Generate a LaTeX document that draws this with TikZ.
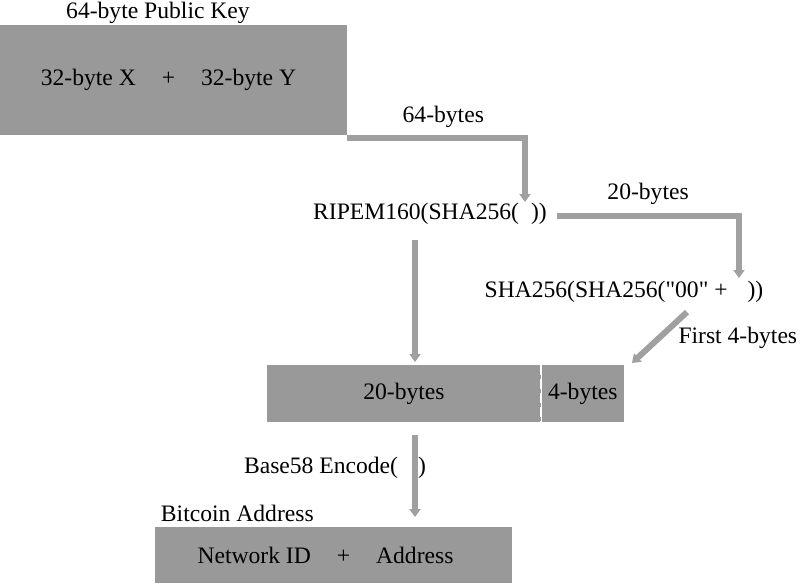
\documentclass[tikz,border=0pt]{standalone}
\usepackage{fontspec}
\setmainfont{Liberation Serif}
\usetikzlibrary{arrows.meta, positioning}
\definecolor{boxgray}{HTML}{999999}
\definecolor{linegray}{HTML}{A0A0A0}

\begin{document}
\begin{tikzpicture}[
  x=0.5pt, y=-0.5pt,
  font=\fontsize{11.8}{14}\selectfont,
  block/.style={rectangle, fill=boxgray, inner sep=0pt, minimum height=28.5pt, align=center},
  caption/.style={inner sep=1pt, text=black},
  flow/.style={-{Triangle[length=4pt, width=5.5pt]}, line width=3pt, color=linegray},
]
\useasboundingbox (0,0) rectangle (800,585);

% public key
\node[block, minimum width=173.5pt, minimum height=55pt] (pubkey) at (173.5,80)
  {32-byte X\hspace{1.1em}+\hspace{1.1em}32-byte Y\hspace*{5pt}};
\node[caption] (pubtitle) at (158,13) {64-byte Public Key};

% hash steps
\node[caption] (ripemd) at (430,214) {RIPEM160(SHA256(\hspace{6pt}))};
\node[caption] (dsha) at (624,292) {SHA256(SHA256(\textquotedbl 00\textquotedbl{} +\hspace{10pt}))};

% 20 + 4 bytes
\node[block, minimum width=137pt] (hash20) at (404,393.5) {20-bytes};
\node[block, minimum width=41pt, right=0pt of hash20] (check4) {4-bytes};
\draw[white, line width=1pt, dash pattern=on 5pt off 2pt] (hash20.north east) -- (hash20.south east);

% address
\node[block, minimum width=178.5pt, minimum height=28pt] (address) at (333.5,555)
  {Network ID\hspace{1.1em}+\hspace{1.1em}Address\hspace*{8pt}};
\node[caption, anchor=south west] (addrtitle) at ([xshift=2pt, yshift=1pt]address.north west) {Bitcoin Address};

\coordinate (ripin) at (525,202);
\coordinate (dshain) at (739,278);
\coordinate (chkin) at (632,363);
\coordinate (hashin) at (415,362);
\coordinate (addrin) at (415,517);

\node[caption] (b58) at (335,468) {Base58 Encode(\hspace{10pt})};

\draw[flow] ([yshift=-1.5pt]pubkey.south east) -| node[caption, above=3pt, pos=0.27] {64-bytes} (ripin);
\draw[flow] ([xshift=4pt, yshift=-1pt]ripemd.east) -| node[caption, above=3pt, pos=0.25] {20-bytes} (dshain);
\draw[flow] ([xshift=31.5pt, yshift=-3.5pt]dsha.south) -- node[caption, right=7pt] {First 4-bytes} (chkin);
\draw[flow] ([yshift=-6.5pt]ripemd.south -| hashin) -- (hashin);
\draw[flow] ([yshift=-6.5pt]hash20.south -| addrin) -- (addrin);

\end{tikzpicture}
\end{document}
